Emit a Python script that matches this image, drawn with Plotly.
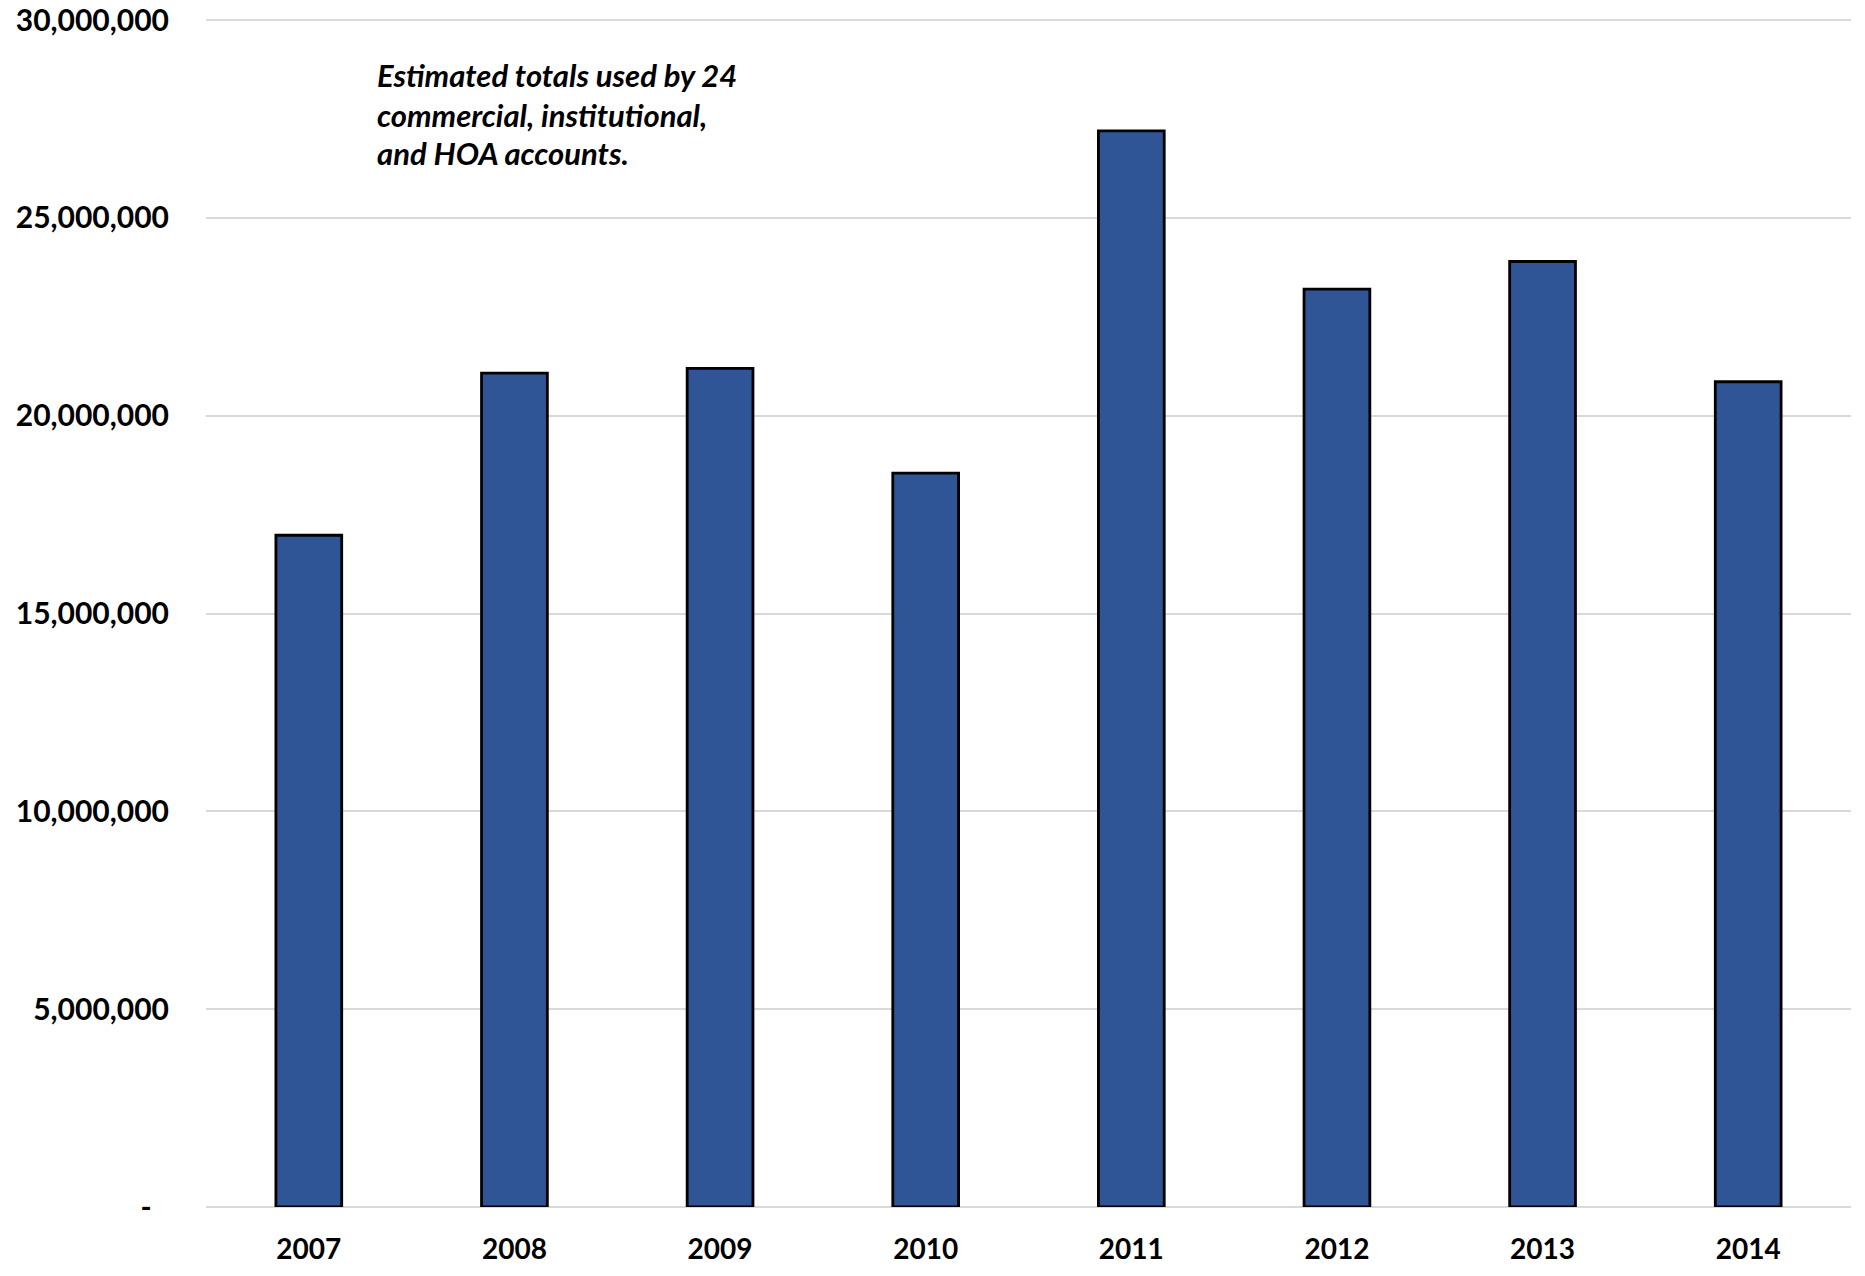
import plotly.graph_objects as go

years = ["2007", "2008", "2009", "2010", "2011", "2012", "2013", "2014"]
totals = [16980000, 21080000, 21200000, 18550000, 27200000, 23200000, 23900000, 20860000]
y_tick_vals = [0, 5000000, 10000000, 15000000, 20000000, 25000000, 30000000]
y_tick_text = ["-\u2007", "5,000,000", "10,000,000", "15,000,000", "20,000,000", "25,000,000", "30,000,000"]
note_lines = ["Estimated totals used by 24", "commercial, institutional,", "and HOA accounts."]

fig = go.Figure()
fig.add_trace(go.Bar(
    x=years, y=totals,
    marker=dict(color="#2F5597", line=dict(color="black", width=2.8)),
    width=0.32,
))

line_y = [0.9528, 0.9196, 0.8876]
for txt, yy in zip(note_lines, line_y):
    fig.add_annotation(
        text=f"<b><i>{txt}</i></b>", xref="paper", yref="paper",
        x=0.103, y=yy, xanchor="left", yanchor="middle", showarrow=False,
        font=dict(family="Lato", size=31, color="black"),
    )

fig.update_layout(
    width=1865, height=1276,
    margin=dict(l=206, r=14, t=19, b=69),
    plot_bgcolor="white", paper_bgcolor="white",
    showlegend=False,
    font=dict(family="Lato", color="black"),
)
fig.update_xaxes(
    type="category", showgrid=False, showline=False, ticks="",
    tickfont=dict(family="Lato", size=28, color="black", weight="bold"),
    ticklabelstandoff=23, automargin=False,
)
fig.update_yaxes(
    range=[0, 30030000], tickvals=y_tick_vals, ticktext=y_tick_text,
    showgrid=True, gridcolor="#D9D9D9", gridwidth=2,
    zeroline=True, zerolinecolor="#D9D9D9", zerolinewidth=2,
    showline=False, ticks="",
    tickfont=dict(family="Lato", size=30, color="black", weight="bold"),
    ticklabelstandoff=36, automargin=False,
)

fig.write_html("out.html")
